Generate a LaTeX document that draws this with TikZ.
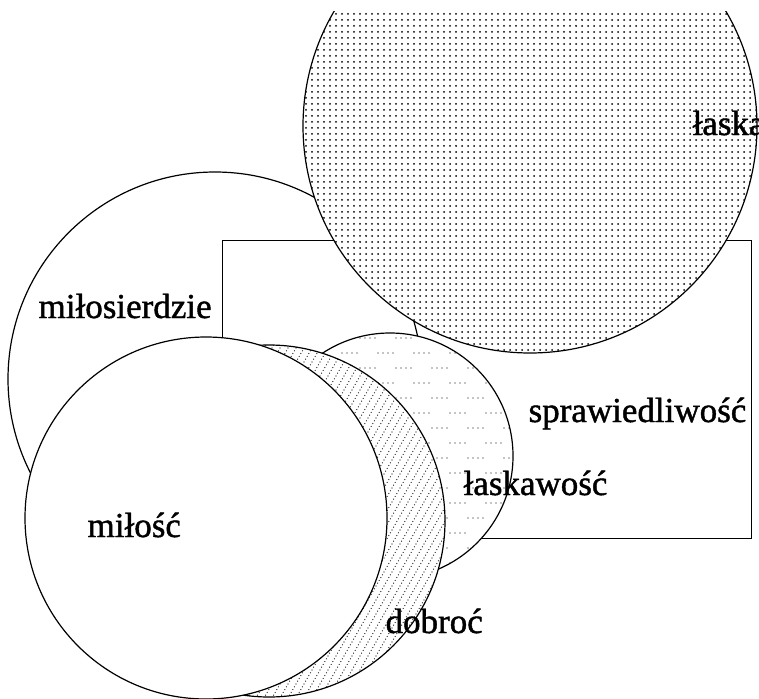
\documentclass[tikz,border=0pt]{standalone}
\usepackage{fontspec}
\setmainfont{Liberation Serif}
\newfontfamily\heavyserif[FakeBold=1.2]{Liberation Serif}
\usepackage{tikz}
\usetikzlibrary{patterns}

% dense dot grid
\pgfdeclarepatternformonly{gracedots}{\pgfqpoint{-1.5pt}{-1.5pt}}{\pgfqpoint{1.5pt}{1.5pt}}{\pgfqpoint{6pt}{6pt}}{%
  \pgfpathcircle{\pgfqpoint{0pt}{0pt}}{1pt}\pgfusepath{fill}}
% steep dotted hatching
\pgfdeclarepatternformonly{goodhatch}{\pgfqpoint{-1pt}{-1pt}}{\pgfqpoint{7.5pt}{12.5pt}}{\pgfqpoint{8pt}{14pt}}{%
  \foreach \k in {0,1,2,3,4}
    {\pgfpathcircle{\pgfpoint{1.6pt*\k}{2.8pt*\k}}{0.6pt}}
  \pgfusepath{fill}}
% thin rows of dots
\pgfdeclarepatternformonly{kinddots}{\pgfqpoint{-1pt}{-1pt}}{\pgfqpoint{35pt}{29pt}}{\pgfqpoint{36pt}{30pt}}{%
  \foreach \k in {0,1,2,3}
    {\pgfpathcircle{\pgfpoint{5pt*\k}{0pt}}{0.7pt}
     \pgfpathcircle{\pgfpoint{18pt+5pt*\k}{15pt}}{0.7pt}}
  \pgfusepath{fill}}

\begin{document}
\begin{tikzpicture}[x=1pt, y=-1pt, line width=1.2pt,
                    ring/.style={circle, draw, inner sep=0pt, minimum size=#1},
                    word/.style={inner sep=0pt, anchor=base west,
                                 font=\heavyserif\fontsize{35}{40}\selectfont}]
  \tikzstyle{blank}=[preaction={fill=white}]
  \useasboundingbox (0,0) rectangle (759,698);

    \node[draw, rectangle, inner sep=0pt, minimum width=529pt, minimum height=298pt,
          anchor=north west] (spraw) at (222,240) {};
    \node[ring=414pt] (milos) at (215,379) {};

  \begin{scope}
    \clip (0,12) rectangle (759,698);
    \node[ring=454pt, blank, pattern=gracedots] (laska) at (530,126) {};
  \end{scope}

    \node[ring=246pt, blank, pattern=kinddots] (laskaw) at (390,456) {};
    \node[ring=352pt, blank, pattern=goodhatch] (dobroc) at (269,521) {};
    \node[ring=362pt, fill=white] (milosc) at (206,518) {};

    \node[word] (tlaska)  at (692,135) {łaska};
    \node[word] (tspraw)  at (528,422) {sprawiedliwość};
    \node[word] (tmilos)  at (38,318)  {miłosierdzie};
    \node[word] (tlaskaw) at (463,495) {łaskawość};
    \node[word] (tmilosc) at (87,537)  {miłość};
    \node[word] (tdobroc) at (385,633) {dobroć};

\end{tikzpicture}
\end{document}
